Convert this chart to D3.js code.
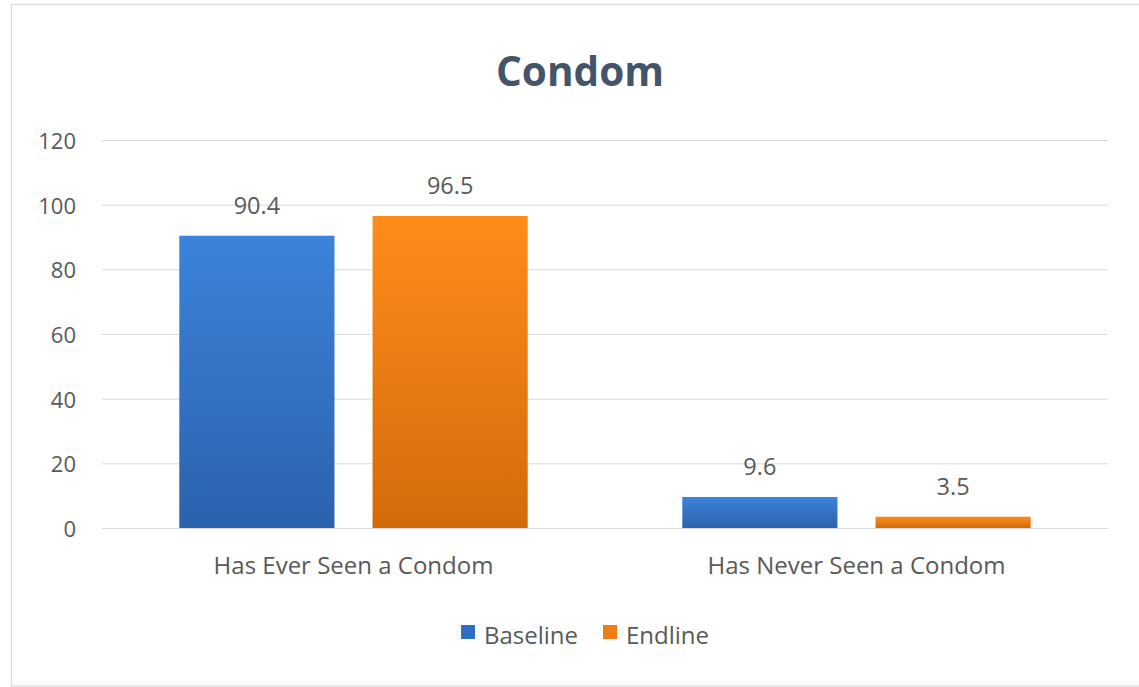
<!DOCTYPE html>
<html>
<head>
<meta charset="utf-8">
<script src="https://cdn.jsdelivr.net/npm/d3@7"></script>
<style>
  html, body { margin: 0; padding: 0; background: #fff; }
  svg { display: block; }
  text { font-family: "Open Sans", "Noto Sans", sans-serif; }
</style>
</head>
<body>
<svg id="chart" width="1139" height="687"></svg>
<script>
// Survey results: share of respondents who have / have not seen a condom
const categories = ["Has Ever Seen a Condom", "Has Never Seen a Condom"];
const seriesNames = ["Baseline", "Endline"];
const baseline = [90.4, 9.6];
const endline = [96.5, 3.5];
const yTicks = [0, 20, 40, 60, 80, 100, 120];
const chartTitle = "Condom";

const W = 1139, H = 687;
const margin = { left: 102, right: 31, top: 140, bottom: 159 };
const svg = d3.select("#chart");

const defs = svg.append("defs");
const gradStops = {
  Baseline: ["#3C83DB", "#2B62AD"],
  Endline: ["#FF8C1A", "#D26B0B"]
};
seriesNames.forEach(name => {
  const g = defs.append("linearGradient")
    .attr("id", "grad-" + name).attr("x1", 0).attr("y1", 0).attr("x2", 0).attr("y2", 1);
  g.append("stop").attr("offset", "0%").attr("stop-color", gradStops[name][0]);
  g.append("stop").attr("offset", "100%").attr("stop-color", gradStops[name][1]);
});

// outer frame
svg.append("rect")
  .attr("x", 11.5).attr("y", 4.5).attr("width", 1140).attr("height", 681.5)
  .attr("fill", "#fff").attr("stroke", "#D9D9D9").attr("stroke-width", 1.2);

const x0 = d3.scaleBand().domain(categories)
  .range([margin.left, W - margin.right]).paddingInner(0).paddingOuter(0);
const x1 = d3.scaleBand().domain(seriesNames)
  .range([0, x0.bandwidth()]).paddingInner(0.197).paddingOuter(0.4);
const y = d3.scaleLinear().domain([0, 120]).range([H - margin.bottom, margin.top]);

// gridlines
svg.append("g")
  .attr("transform", `translate(${margin.left},0)`)
  .call(d3.axisLeft(y).tickValues(yTicks).tickSize(-(W - margin.left - margin.right)).tickFormat(""))
  .call(g => g.select(".domain").remove())
  .call(g => g.selectAll("line").attr("stroke", "#D9D9D9").attr("stroke-width", 1));

// y tick labels
svg.append("g")
  .attr("transform", `translate(76,0)`)
  .call(d3.axisLeft(y).tickValues(yTicks).tickSize(0).tickPadding(0))
  .call(g => g.select(".domain").remove())
  .call(g => g.selectAll("text")
    .attr("fill", "#595959").style("font-size", "22px").attr("dy", "0.38em"));

// bars
const rows = categories.map((c, i) => ({ cat: c, values: [
  { name: "Baseline", value: baseline[i] },
  { name: "Endline", value: endline[i] }
]}));

const groups = svg.append("g").selectAll("g").data(rows).join("g")
  .attr("transform", d => `translate(${x0(d.cat)},0)`);

groups.selectAll("rect").data(d => d.values).join("rect")
  .attr("x", d => x1(d.name))
  .attr("width", x1.bandwidth())
  .attr("y", d => y(d.value))
  .attr("height", d => y(0) - y(d.value))
  .attr("fill", d => `url(#grad-${d.name})`);

groups.selectAll("text.val").data(d => d.values).join("text")
  .attr("class", "val")
  .attr("x", d => x1(d.name) + x1.bandwidth() / 2)
  .attr("y", d => y(d.value) - 22)
  .attr("text-anchor", "middle")
  .attr("fill", "#595959")
  .style("font-size", "23.5px")
  .text(d => d.value);

// category labels
svg.append("g")
  .attr("transform", `translate(0,${y(0)})`)
  .call(d3.axisBottom(x0).tickSize(0).tickPadding(0))
  .call(g => g.select(".domain").remove())
  .call(g => g.selectAll("text")
    .attr("fill", "#595959").style("font-size", "24px").attr("dy", "1.92em"));

// title
svg.append("text")
  .attr("x", 580).attr("y", 86)
  .attr("text-anchor", "middle")
  .attr("fill", "#44546A")
  .style("font-size", "40.5px").style("font-weight", "bold")
  .text(chartTitle);

// legend
const color = { Baseline: "#2F6EC4", Endline: "#F07D14" };
const legendX = [461, 603];
const legend = svg.append("g").selectAll("g").data(seriesNames).join("g")
  .attr("transform", (d, i) => `translate(${legendX[i]},625)`);
legend.append("rect").attr("width", 14).attr("height", 14).attr("fill", d => color[d]);
legend.append("text").attr("x", 23).attr("y", 19)
  .attr("fill", "#595959").style("font-size", "24px").text(d => d);
</script>
</body>
</html>
